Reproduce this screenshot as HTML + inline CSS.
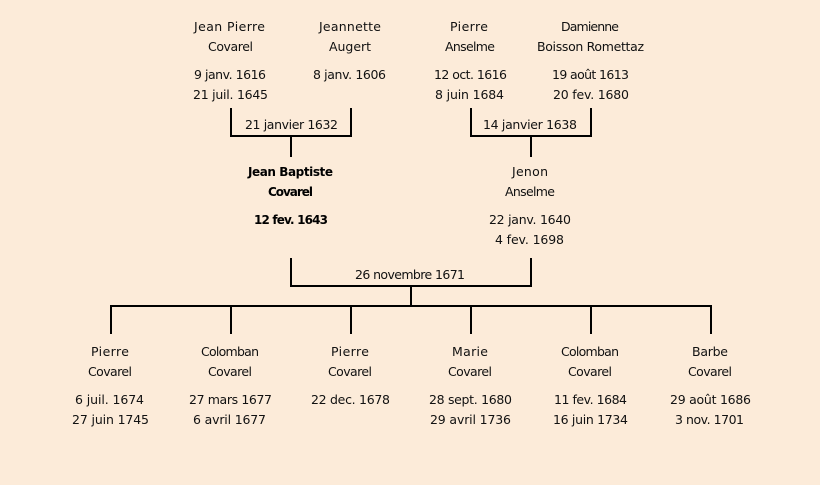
<!DOCTYPE html>
<html><head><meta charset="utf-8"><style>
html,body{margin:0;padding:0;background:#fcebd9;width:820px;height:485px;overflow:hidden}
svg{display:block}
text{font-family:"DejaVu Sans","Liberation Sans",sans-serif;font-size:12.5px;fill:#111;text-anchor:start}
.b{font-weight:bold;font-size:12px;fill:#000}
</style></head><body>
<svg width="820" height="485" viewBox="0 0 820 485" xmlns="http://www.w3.org/2000/svg">
<rect width="820" height="485" fill="#fcebd9"/>
<g fill="none" stroke="#000" stroke-width="2">
<path d="M231 108V136H351V108M291 136V157"/>
<path d="M471 108V136H591V108M531 136V157"/>
<path d="M291 258V286H531V258M411 286V306"/>
<path d="M110 306H712M111 306V334M231 306V334M351 306V334M471 306V334M591 306V334M711 306V334"/>
</g>
<g transform="translate(0,-1)">
<text x="194" y="32" textLength="71">Jean Pierre</text>
<text x="208" y="52" textLength="45">Covarel</text>
<text x="194" y="80" textLength="72">9 janv. 1616</text>
<text x="193" y="100" textLength="75">21 juil. 1645</text>
<text x="319" y="32" textLength="62">Jeannette</text>
<text x="329" y="52" textLength="42">Augert</text>
<text x="313" y="80" textLength="73">8 janv. 1606</text>
<text x="450" y="32" textLength="38">Pierre</text>
<text x="445" y="52" textLength="50">Anselme</text>
<text x="434" y="80" textLength="73">12 oct. 1616</text>
<text x="435" y="100" textLength="69">8 juin 1684</text>
<text x="561" y="32" textLength="58">Damienne</text>
<text x="537" y="52" textLength="107">Boisson Romettaz</text>
<text x="552" y="80" textLength="77">19 août 1613</text>
<text x="553" y="100" textLength="76">20 fev. 1680</text>
<text x="245" y="130" textLength="93">21 janvier 1632</text>
<text x="483" y="130" textLength="94">14 janvier 1638</text>
<text class="b" x="248" y="177" textLength="85">Jean Baptiste</text>
<text class="b" x="268" y="197" textLength="45">Covarel</text>
<text class="b" x="254" y="225" textLength="74">12 fev. 1643</text>
<text x="512" y="177" textLength="36">Jenon</text>
<text x="505" y="197" textLength="50">Anselme</text>
<text x="489" y="225" textLength="82">22 janv. 1640</text>
<text x="495" y="245" textLength="69">4 fev. 1698</text>
<text x="355" y="280" textLength="110">26 novembre 1671</text>
<text x="91" y="357" textLength="38">Pierre</text>
<text x="88" y="377" textLength="44">Covarel</text>
<text x="75" y="405" textLength="69">6 juil. 1674</text>
<text x="72" y="425" textLength="77">27 juin 1745</text>
<text x="201" y="357" textLength="58">Colomban</text>
<text x="208" y="377" textLength="44">Covarel</text>
<text x="189" y="405" textLength="83">27 mars 1677</text>
<text x="193" y="425" textLength="73">6 avril 1677</text>
<text x="331" y="357" textLength="38">Pierre</text>
<text x="328" y="377" textLength="44">Covarel</text>
<text x="311" y="405" textLength="79">22 dec. 1678</text>
<text x="452" y="357" textLength="36">Marie</text>
<text x="448" y="377" textLength="44">Covarel</text>
<text x="429" y="405" textLength="83">28 sept. 1680</text>
<text x="430" y="425" textLength="81">29 avril 1736</text>
<text x="561" y="357" textLength="58">Colomban</text>
<text x="568" y="377" textLength="44">Covarel</text>
<text x="554" y="405" textLength="73">11 fev. 1684</text>
<text x="553" y="425" textLength="75">16 juin 1734</text>
<text x="692" y="357" textLength="36">Barbe</text>
<text x="688" y="377" textLength="44">Covarel</text>
<text x="670" y="405" textLength="81">29 août 1686</text>
<text x="675" y="425" textLength="69">3 nov. 1701</text>
</g>
</svg>
</body></html>
